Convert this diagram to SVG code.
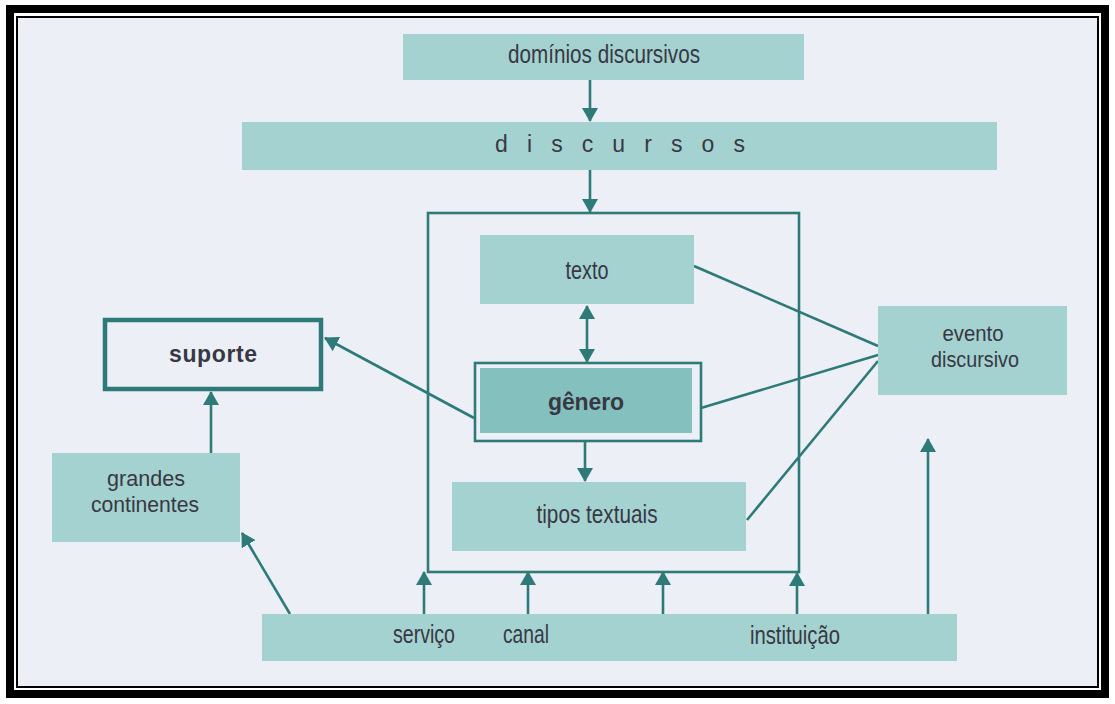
<svg xmlns="http://www.w3.org/2000/svg" width="1115" height="704" viewBox="0 0 1115 704">
<style>
.box{fill:#a4d2d0}
.dark{fill:#84c0bd}
.ln{stroke:#2e7a78;stroke-width:2.6;fill:none}
.t{font-family:"Liberation Sans",Arial,sans-serif;font-size:25px;fill:#383844;text-anchor:middle}
.two{font-size:22px}
.b{font-weight:bold;font-size:23px}
</style>
<defs>
<marker id="ah" viewBox="0 0 14 16" refX="13" refY="8" markerWidth="14" markerHeight="16" orient="auto-start-reverse" markerUnits="userSpaceOnUse">
<path d="M0,0 L14,8 L0,16 z" fill="#2e7a78"/>
</marker>
</defs>
<rect x="0" y="0" width="1115" height="704" fill="#ffffff"/>
<rect x="18" y="18" width="1079" height="668" fill="#eceff5"/>
<rect x="10" y="9" width="1095" height="685" fill="none" stroke="#000" stroke-width="8"/>
<rect x="17" y="17" width="1081" height="670" fill="none" stroke="#000" stroke-width="2"/>

<g id="connectors">
<path class="ln" d="M590,80 L590,121" marker-end="url(#ah)"/>
<path class="ln" d="M590,170 L590,212" marker-end="url(#ah)"/>
<path class="ln" d="M587,306 L587,362" marker-start="url(#ah)" marker-end="url(#ah)"/>
<path class="ln" d="M474,418 L325,338" marker-end="url(#ah)"/>
<path class="ln" d="M211,453 L211,392" marker-end="url(#ah)"/>
<path class="ln" d="M290,614 L242,533" marker-end="url(#ah)"/>
<path class="ln" d="M424,614 L424,572" marker-end="url(#ah)"/>
<path class="ln" d="M528,614 L528,572" marker-end="url(#ah)"/>
<path class="ln" d="M663,614 L663,572" marker-end="url(#ah)"/>
<path class="ln" d="M797,616 L797,573" marker-end="url(#ah)"/>
<path class="ln" d="M928,616 L928,439" marker-end="url(#ah)"/>
<path class="ln" d="M585,441 L585,481" marker-end="url(#ah)"/>
<path class="ln" d="M694,266 L878,346"/>
<path class="ln" d="M701,408 L878,355"/>
<path class="ln" d="M747,520 L878,361"/>
</g>

<g id="frame">
<rect class="ln" x="428" y="213" width="371" height="359"/>
</g>

<g id="dominios">
<rect class="box" x="403" y="34" width="401" height="46"/>
<text class="t" x="604" y="63" textLength="192" lengthAdjust="spacingAndGlyphs">domínios discursivos</text>
</g>

<g id="discursos">
<rect class="box" x="242" y="122" width="755" height="48"/>
<text class="t" x="495" y="152" style="text-anchor:start;font-size:23px" textLength="250" lengthAdjust="spacing">d i s c u r s o s</text>
</g>

<g id="texto">
<rect class="box" x="480" y="235" width="214" height="69"/>
<text class="t" x="587" y="279" textLength="43" lengthAdjust="spacingAndGlyphs">texto</text>
</g>

<g id="genero">
<rect class="ln" x="475" y="363" width="226" height="78"/>
<rect class="dark" x="480" y="368" width="212" height="65"/>
<text class="t b" x="586" y="410" textLength="76">gênero</text>
</g>

<g id="suporte">
<rect class="ln" x="105" y="320" width="216" height="69" style="stroke-width:4.5"/>
<text class="t b" x="213" y="362" textLength="88">suporte</text>
</g>

<g id="grandes">
<rect class="box" x="52" y="453" width="188" height="89"/>
<text class="t two" x="146" y="486" textLength="78" lengthAdjust="spacingAndGlyphs">grandes</text>
<text class="t two" x="145" y="512" textLength="108" lengthAdjust="spacingAndGlyphs">continentes</text>
</g>

<g id="tipos">
<rect class="box" x="452" y="482" width="294" height="69"/>
<text class="t" x="597" y="523" textLength="121" lengthAdjust="spacingAndGlyphs">tipos textuais</text>
</g>

<g id="evento">
<rect class="box" x="878" y="306" width="189" height="89"/>
<text class="t two" x="973" y="341" textLength="61" lengthAdjust="spacingAndGlyphs">evento</text>
<text class="t two" x="975" y="367" textLength="88" lengthAdjust="spacingAndGlyphs">discursivo</text>
</g>

<g id="base">
<rect class="box" x="262" y="614" width="695" height="47"/>
<text class="t" x="424" y="643" textLength="62" lengthAdjust="spacingAndGlyphs">serviço</text>
<text class="t" x="526" y="643" textLength="46" lengthAdjust="spacingAndGlyphs">canal</text>
<text class="t" x="795" y="644" textLength="90" lengthAdjust="spacingAndGlyphs">instituição</text>
</g>
</svg>
